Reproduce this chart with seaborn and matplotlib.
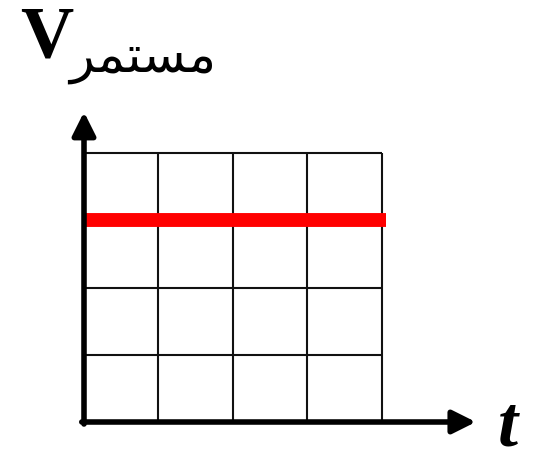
import matplotlib
matplotlib.use("Agg")
import matplotlib.pyplot as plt
import seaborn as sns
import pandas as pd

# data: a constant (DC) voltage over time
t_values = [0, 4.05]
v_values = [3, 3]
grid_x = [0, 1, 2, 3, 4]
grid_y = [0, 1, 2, 3, 4]
x_label = "t"
y_label = "V"
# "مستمر" written in Arabic presentation forms (right-to-left, shaped) so matplotlib draws it joined
arabic_label = "\uFEAE\uFEE4\uFE98\uFEB4\uFEE3"

sns.set_style("white")

fig = plt.figure(figsize=(5.44, 4.54), dpi=100)
ax = fig.add_axes([0, 0, 1, 1])
ax.set_xlim(-84 / 74.5, (544 - 84) / 74.5)
ax.set_ylim(-32 / 67.25, (454 - 32) / 67.25)
ax.axis("off")

# grid cells
ax.vlines(grid_x, grid_y[0], grid_y[-1], color="#111111", lw=1.5, zorder=1)
ax.hlines(grid_y, grid_x[0], grid_x[-1], color="#111111", lw=1.5, zorder=1)

# constant signal
df = pd.DataFrame({"t": t_values, "v": v_values})
sns.lineplot(data=df, x="t", y="v", color="#ff0000", lw=10, ax=ax, zorder=3,
             solid_capstyle="butt")

# axes arrows
arrow = dict(arrowstyle="-|>,head_length=1.4,head_width=0.7", color="black", lw=4, shrinkA=0, shrinkB=0)
ax.annotate("", xy=(0, 4.61), xytext=(0, -0.03), arrowprops=arrow, zorder=4)
ax.annotate("", xy=(5.26, 0), xytext=(-0.03, 0), arrowprops=arrow, zorder=4)

fig.text(47 / 544, 1 - 58 / 454, y_label, fontsize=53, fontweight="bold", color="black",
         family="Liberation Serif", ha="center", va="baseline")
fig.text(143 / 544, 1 - 72 / 454, arabic_label, fontsize=37, color="black",
         family="DejaVu Sans", ha="center", va="baseline")
fig.text(508 / 544, 1 - 446 / 454, x_label, fontsize=52, fontweight="bold", style="italic",
         color="black", family="Liberation Serif", ha="center", va="baseline")

fig.savefig("out.png", dpi=100)
